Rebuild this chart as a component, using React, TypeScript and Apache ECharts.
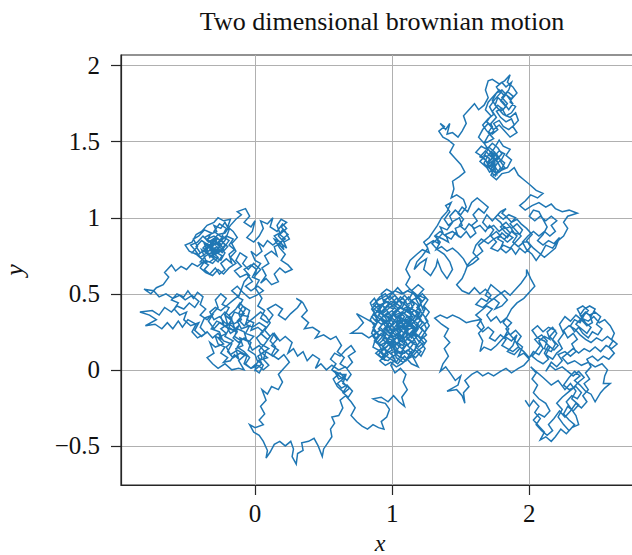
import React, { useEffect, useRef } from "react";
import * as echarts from "echarts";

// Path of a 2-D brownian walk, stored piece by piece as [x, y] pairs.
const originTangle: number[][] = [
  [0.00,0.00],[0.03,-0.02],[0.06,0.03],[0.02,0.06],[0.09,0.08],[0.05,0.11],[0.10,0.14],[0.04,0.17],[0.01,0.21],[0.06,0.25],
  [0.02,0.28],[-0.03,0.26],[-0.01,0.31],[-0.06,0.33],[-0.04,0.39],[-0.09,0.42],[-0.12,0.37],[-0.10,0.33],[-0.16,0.30],[-0.14,0.25],
  [-0.19,0.28],[-0.17,0.34],[-0.22,0.38],[-0.25,0.35],[-0.23,0.30],[-0.28,0.32],[-0.32,0.27],[-0.26,0.25],[-0.24,0.20],[-0.29,0.22],
  [-0.27,0.17],[-0.22,0.15],[-0.25,0.11],[-0.20,0.08],[-0.23,0.05],[-0.18,0.06],[-0.15,0.10],[-0.12,0.07],[-0.14,0.14],[-0.09,0.16],
  [-0.11,0.21],[-0.06,0.19],[-0.08,0.25],[-0.13,0.27],[-0.18,0.24],[-0.21,0.29],[-0.16,0.31],[-0.19,0.36],[-0.14,0.40],[-0.11,0.44],
  [-0.07,0.40],[-0.10,0.36],[-0.05,0.35],[-0.07,0.30],[-0.02,0.28],[0.03,0.31],[0.08,0.28],[0.04,0.24],[0.09,0.20],[0.13,0.24],
  [0.16,0.20],[0.12,0.16],[0.17,0.13],[0.13,0.09],[0.08,0.12],[0.06,0.07],[0.10,0.03],[0.06,0.00],[0.02,0.03],[-0.03,0.01],
];

const leftLowerSpread: number[][] = [
  [-0.08,0.04],[-0.06,0.09],[-0.11,0.11],[-0.16,0.08],[-0.20,0.12],[-0.17,0.17],[-0.23,0.19],[-0.27,0.24],[-0.31,0.21],[-0.35,0.25],
  [-0.39,0.22],[-0.44,0.26],[-0.41,0.31],[-0.47,0.29],[-0.52,0.33],[-0.50,0.38],[-0.55,0.36],[-0.59,0.40],[-0.56,0.44],[-0.61,0.46],
  [-0.57,0.50],[-0.52,0.48],[-0.49,0.52],[-0.45,0.47],[-0.42,0.51],[-0.38,0.48],[-0.40,0.43],[-0.36,0.40],[-0.40,0.36],[-0.35,0.33],
  [-0.31,0.37],[-0.27,0.41],[-0.29,0.46],[-0.25,0.50],[-0.21,0.47],[-0.24,0.43],[-0.19,0.41],[-0.22,0.36],[-0.17,0.33],[-0.21,0.28],
  [-0.16,0.26],[-0.12,0.29],[-0.15,0.22],[-0.10,0.19],[-0.13,0.15],[-0.08,0.12],[-0.04,0.08],[-0.07,0.04],[-0.03,0.01],
];

const lowerLeftReturn: number[][] = [
  [0.02,0.05],[0.00,0.10],[-0.05,0.13],[-0.03,0.18],[-0.08,0.21],[-0.12,0.18],[-0.16,0.21],[-0.13,0.25],[-0.17,0.29],[-0.22,0.31],
  [-0.26,0.35],[-0.30,0.33],[-0.33,0.38],[-0.29,0.41],[-0.25,0.39],[-0.21,0.42],[-0.17,0.45],[-0.13,0.48],[-0.09,0.46],[-0.12,0.41],
  [-0.08,0.37],[-0.12,0.33],[-0.08,0.29],[-0.04,0.32],[0.00,0.35],[0.04,0.38],[0.08,0.35],[0.11,0.31],[0.07,0.26],[0.11,0.22],
  [0.07,0.17],[0.03,0.13],[0.05,0.08],[0.01,0.04],
];

const startAndLeftArm: number[][] = [
  [0.00,0.00],[0.05,0.04],[0.02,0.09],[0.07,0.12],[0.03,0.16],[-0.02,0.13],[-0.05,0.18],[-0.01,0.22],[-0.07,0.24],[-0.04,0.29],
  [-0.10,0.27],[-0.13,0.32],[-0.09,0.36],[-0.15,0.38],[-0.18,0.33],[-0.22,0.36],[-0.20,0.30],[-0.25,0.27],[-0.21,0.24],[-0.27,0.21],
  [-0.23,0.17],[-0.29,0.15],[-0.33,0.18],[-0.30,0.11],[-0.35,0.08],[-0.31,0.04],[-0.27,0.01],[-0.22,0.04],[-0.17,0.00],[-0.12,0.01],
  [-0.08,0.00],[-0.12,0.06],[-0.07,0.10],[-0.13,0.13],[-0.18,0.10],[-0.21,0.15],[-0.16,0.19],[-0.22,0.22],[-0.19,0.27],[-0.26,0.31],
  [-0.30,0.27],[-0.34,0.32],[-0.31,0.36],[-0.37,0.34],[-0.40,0.28],[-0.36,0.24],[-0.42,0.21],[-0.46,0.25],[-0.43,0.30],[-0.49,0.33],
  [-0.53,0.28],[-0.56,0.32],[-0.60,0.27],[-0.64,0.31],[-0.68,0.27],[-0.73,0.30],[-0.80,0.29],[-0.72,0.33],[-0.77,0.36],[-0.84,0.38],
  [-0.75,0.39],[-0.70,0.36],[-0.66,0.41],[-0.61,0.38],[-0.57,0.42],[-0.52,0.40],[-0.48,0.44],[-0.44,0.41],[-0.41,0.45],[-0.46,0.49],
  [-0.51,0.46],[-0.55,0.49],[-0.60,0.47],[-0.65,0.50],[-0.70,0.48],[-0.74,0.52],[-0.81,0.53],[-0.76,0.50],[-0.72,0.54],[-0.67,0.56],
  [-0.63,0.61],[-0.66,0.64],[-0.61,0.69],[-0.58,0.65],[-0.54,0.68],[-0.50,0.66],[-0.46,0.70],[-0.42,0.68],[-0.38,0.71],[-0.34,0.69],
];

const leftTangle: number[][] = [
  [-0.37,0.66],[-0.33,0.63],[-0.29,0.67],[-0.26,0.63],[-0.22,0.66],[-0.25,0.70],[-0.21,0.73],[-0.17,0.70],[-0.19,0.76],[-0.15,0.79],
  [-0.19,0.82],[-0.16,0.86],[-0.21,0.88],[-0.26,0.84],[-0.23,0.79],[-0.29,0.76],[-0.33,0.79],[-0.30,0.83],[-0.35,0.85],[-0.32,0.90],
  [-0.37,0.92],[-0.41,0.88],[-0.45,0.86],[-0.42,0.81],[-0.46,0.77],[-0.41,0.76],[-0.37,0.79],[-0.33,0.76],[-0.28,0.79],[-0.31,0.74],
  [-0.27,0.71],[-0.24,0.75],[-0.28,0.77],[-0.26,0.81],[-0.30,0.85],[-0.27,0.87],[-0.31,0.81],[-0.35,0.83],[-0.38,0.80],[-0.34,0.78],
  [-0.30,0.80],[-0.26,0.78],[-0.22,0.82],[-0.25,0.86],[-0.29,0.82],[-0.33,0.84],[-0.37,0.87],[-0.33,0.89],[-0.28,0.91],[-0.30,0.95],
  [-0.25,0.93],[-0.22,0.97],[-0.19,0.92],[-0.22,0.85],[-0.27,0.80],[-0.32,0.77],[-0.36,0.75],[-0.40,0.71],[-0.35,0.70],
];

const leftTopSpread: number[][] = [
  [-0.39,0.73],[-0.43,0.76],[-0.48,0.78],[-0.51,0.82],[-0.46,0.84],[-0.43,0.89],[-0.39,0.91],[-0.35,0.95],[-0.30,0.97],[-0.27,1.00],
  [-0.23,0.98],[-0.18,0.99],[-0.20,0.94],[-0.16,0.91],[-0.13,0.87],[-0.17,0.83],[-0.14,0.78],[-0.18,0.74],[-0.14,0.70],[-0.19,0.67],
  [-0.23,0.63],[-0.27,0.66],[-0.31,0.62],[-0.36,0.64],[-0.40,0.67],[-0.37,0.71],[-0.33,0.71],
];

const upperLeftCluster: number[][] = [
  [-0.30,0.73],[-0.35,0.77],[-0.40,0.74],[-0.44,0.79],[-0.47,0.82],[-0.42,0.84],[-0.38,0.88],[-0.34,0.84],[-0.29,0.87],[-0.32,0.81],
  [-0.27,0.78],[-0.31,0.75],[-0.25,0.72],[-0.22,0.77],[-0.27,0.82],[-0.24,0.87],[-0.30,0.91],[-0.26,0.96],[-0.21,0.93],[-0.24,0.88],
  [-0.19,0.85],[-0.23,0.80],[-0.28,0.84],[-0.33,0.80],[-0.37,0.83],[-0.34,0.76],[-0.39,0.79],[-0.36,0.72],[-0.31,0.70],[-0.27,0.74],
  [-0.32,0.78],[-0.28,0.81],[-0.24,0.77],[-0.20,0.81],[-0.25,0.85],[-0.30,0.88],[-0.35,0.86],[-0.31,0.83],[-0.36,0.80],[-0.33,0.74],
  [-0.29,0.78],[-0.34,0.82],[-0.39,0.85],[-0.43,0.81],[-0.40,0.77],[-0.35,0.79],[-0.31,0.85],[-0.27,0.89],[-0.22,0.90],[-0.18,0.95],
  [-0.14,0.99],[-0.10,1.02],[-0.13,1.04],[-0.07,1.06],[-0.04,1.01],[-0.08,0.97],[-0.03,0.94],[0.00,0.98],[-0.02,0.91],[-0.06,0.87],
  [-0.01,0.84],[0.03,0.88],[0.06,0.93],[0.04,0.98],[0.09,0.96],[0.13,1.00],[0.11,0.94],[0.16,0.91],[0.20,0.96],[0.23,0.93],
  [0.18,0.89],[0.22,0.86],[0.17,0.83],[0.21,0.79],[0.19,0.84],[0.14,0.86],[0.18,0.80],[0.22,0.76],[0.19,0.72],[0.24,0.69],
  [0.27,0.66],[0.22,0.64],[0.18,0.67],[0.14,0.63],[0.17,0.58],[0.12,0.56],[0.08,0.60],[0.04,0.57],
];

const upperMiddleTangle: number[][] = [
  [0.08,0.62],[0.05,0.67],[0.10,0.70],[0.07,0.75],[0.12,0.78],[0.16,0.75],[0.14,0.81],[0.19,0.83],[0.23,0.80],[0.20,0.86],
  [0.24,0.89],[0.20,0.92],[0.17,0.88],[0.21,0.84],[0.25,0.86],[0.22,0.91],[0.19,0.94],[0.23,0.97],[0.19,0.99],[0.16,0.95],
  [0.18,0.90],[0.14,0.88],[0.17,0.85],[0.13,0.82],[0.09,0.85],[0.06,0.81],[0.02,0.84],[0.05,0.78],[0.01,0.75],[-0.03,0.78],
  [0.00,0.72],[0.04,0.70],[0.01,0.66],
];

const middleLeftCluster: number[][] = [
  [0.00,0.62],[0.04,0.66],[-0.01,0.70],[-0.05,0.66],[-0.09,0.70],[-0.06,0.74],[-0.11,0.77],[-0.14,0.72],[-0.10,0.68],[-0.15,0.65],
  [-0.11,0.61],[-0.06,0.63],[-0.02,0.58],[-0.07,0.55],[-0.03,0.52],[0.02,0.55],[0.06,0.52],[0.01,0.49],[-0.04,0.47],[-0.09,0.51],
  [-0.13,0.55],[-0.17,0.52],[-0.12,0.48],[-0.08,0.58],[-0.04,0.62],[-0.08,0.66],[-0.03,0.69],[0.01,0.66],[-0.02,0.61],[0.03,0.59],
  [0.00,0.54],[0.05,0.47],[0.02,0.42],[0.07,0.39],[0.04,0.34],[0.09,0.31],[0.13,0.36],[0.09,0.40],[0.15,0.43],[0.20,0.40],
  [0.17,0.36],[0.22,0.33],[0.26,0.37],[0.31,0.41],[0.34,0.45],[0.30,0.47],[0.35,0.44],[0.38,0.39],[0.34,0.35],[0.39,0.31],
  [0.36,0.27],[0.42,0.28],[0.47,0.25],[0.44,0.21],[0.50,0.23],[0.55,0.20],[0.59,0.22],[0.63,0.16],[0.60,0.12],[0.65,0.08],
  [0.62,0.04],[0.67,0.01],
];

const smallLowerTangle: number[][] = [
  [0.71,0.05],[0.68,0.09],[0.73,0.12],[0.70,0.16],[0.66,0.13],[0.62,0.09],[0.58,0.11],[0.55,0.07],[0.59,0.04],[0.56,0.00],
  [0.60,-0.03],[0.64,-0.06],[0.60,-0.09],[0.63,-0.12],[0.67,-0.10],[0.71,-0.14],[0.68,-0.18],[0.64,-0.15],[0.67,-0.11],[0.63,-0.07],
  [0.66,-0.03],
];

const lowerLoop: number[][] = [
  [0.63,-0.03],[0.58,-0.01],[0.61,-0.06],[0.66,-0.04],[0.64,-0.09],[0.69,-0.12],[0.65,-0.15],[0.60,-0.11],[0.57,-0.06],[0.62,-0.02],
  [0.67,-0.07],[0.70,-0.03],[0.66,0.02],[0.61,0.00],[0.56,0.03],[0.52,0.00],[0.48,0.04],[0.44,0.01],[0.47,0.07],[0.42,0.10],
  [0.38,0.06],[0.35,0.12],[0.31,0.09],[0.28,0.14],[0.24,0.11],[0.27,0.18],[0.22,0.22],[0.18,0.19],[0.14,0.24],[0.11,0.19],
  [0.15,0.15],[0.12,0.10],[0.17,0.07],[0.21,0.10],[0.25,0.05],[0.21,0.01],[0.17,-0.03],[0.20,-0.08],[0.17,-0.13],[0.12,-0.11],
  [0.09,-0.16],[0.05,-0.13],[0.08,-0.20],[0.04,-0.24],[0.07,-0.29],[0.03,-0.33],[0.06,-0.36],[0.00,-0.38],[-0.04,-0.36],[-0.01,-0.41],
  [0.03,-0.43],[0.06,-0.47],[0.09,-0.53],[0.08,-0.58],[0.11,-0.54],[0.14,-0.49],[0.18,-0.47],[0.22,-0.50],[0.26,-0.47],[0.28,-0.52],
  [0.27,-0.57],[0.30,-0.62],[0.31,-0.55],[0.35,-0.53],[0.34,-0.48],[0.39,-0.47],[0.43,-0.45],[0.46,-0.50],[0.49,-0.57],[0.50,-0.52],
  [0.53,-0.48],[0.56,-0.44],[0.55,-0.39],[0.58,-0.35],[0.56,-0.31],[0.61,-0.30],[0.64,-0.25],[0.62,-0.20],[0.66,-0.17],[0.70,-0.21],
  [0.73,-0.25],[0.70,-0.30],[0.74,-0.34],[0.78,-0.37],[0.82,-0.39],[0.86,-0.36],[0.90,-0.38],[0.94,-0.39],[0.92,-0.34],[0.96,-0.31],
  [0.98,-0.26],[0.95,-0.22],[0.90,-0.21],[0.86,-0.19],[0.92,-0.18],[0.97,-0.21],[1.01,-0.17],[1.05,-0.21],[1.09,-0.24],[1.07,-0.18],
  [1.11,-0.13],[1.08,-0.08],[1.10,-0.03],[1.06,0.01],[1.02,-0.02],[0.99,0.03],
];

const centerTangle: number[][] = [
  [1.02,0.07],[0.99,0.11],[1.04,0.13],[1.01,0.17],[1.06,0.16],[1.04,0.21],[0.99,0.23],[1.02,0.27],[0.97,0.26],[0.94,0.30],
  [0.98,0.33],[0.95,0.36],[1.00,0.39],[1.03,0.35],[1.07,0.37],[1.05,0.32],[1.10,0.33],[1.08,0.28],[1.12,0.27],[1.10,0.22],
  [1.14,0.19],[1.11,0.16],[1.15,0.13],[1.12,0.10],[1.08,0.13],[1.06,0.08],[1.02,0.11],[1.05,0.15],[1.01,0.20],[0.97,0.17],
  [0.93,0.20],[0.96,0.24],[0.91,0.28],[0.95,0.32],[0.90,0.36],[0.94,0.39],[0.98,0.43],[0.94,0.46],[0.99,0.48],[1.03,0.44],
  [1.06,0.48],[1.10,0.45],[1.07,0.41],[1.11,0.38],[1.15,0.41],[1.13,0.45],[1.17,0.47],[1.20,0.42],[1.17,0.38],[1.21,0.33],
  [1.18,0.30],[1.22,0.26],[1.19,0.22],[1.23,0.18],[1.19,0.15],[1.16,0.20],[1.13,0.24],[1.16,0.27],[1.12,0.31],[1.15,0.35],
  [1.11,0.35],[1.07,0.31],[1.03,0.29],[1.06,0.25],[1.02,0.23],[0.98,0.27],[1.01,0.31],[0.97,0.35],[1.02,0.37],[1.05,0.40],
  [1.01,0.43],[0.97,0.40],[0.93,0.37],[0.96,0.33],[0.92,0.30],[0.88,0.33],[0.91,0.37],[0.87,0.40],[0.91,0.43],[0.95,0.41],
  [0.99,0.45],[1.04,0.43],[1.08,0.40],[1.12,0.42],[1.09,0.37],[1.13,0.33],[1.09,0.30],[1.05,0.27],[1.09,0.24],[1.06,0.20],
  [1.10,0.18],[1.13,0.14],[1.09,0.11],[1.05,0.12],[1.01,0.09],[0.97,0.12],[0.93,0.15],[0.97,0.19],[1.00,0.15],[1.04,0.18],
  [1.08,0.16],[1.11,0.21],[1.15,0.23],[1.18,0.26],[1.14,0.30],[1.17,0.33],[1.20,0.37],[1.16,0.39],[1.13,0.37],[1.09,0.40],
  [1.06,0.36],[1.02,0.33],[0.99,0.29],[0.95,0.27],[0.99,0.24],[1.03,0.26],[1.07,0.29],[1.11,0.27],[1.08,0.22],[1.04,0.22],
  [1.00,0.19],[0.96,0.15],[0.92,0.12],[0.95,0.09],[0.91,0.06],[0.95,0.03],[0.99,0.05],[1.03,0.02],[1.07,0.04],[1.11,0.07],
  [1.15,0.09],[1.18,0.12],[1.22,0.15],[1.25,0.19],[1.22,0.22],[1.25,0.27],[1.23,0.31],[1.19,0.34],[1.23,0.38],[1.20,0.46],
  [1.16,0.50],[1.11,0.52],[1.07,0.50],[1.02,0.52],[0.98,0.50],[0.94,0.48],[0.90,0.46],[0.86,0.43],[0.90,0.40],[0.87,0.36],
  [0.90,0.32],[0.86,0.28],[0.89,0.24],[0.93,0.22],[0.89,0.18],[0.92,0.14],[0.88,0.11],[0.92,0.08],
];

const centerSpread: number[][] = [
  [0.96,0.11],[1.00,0.13],[0.97,0.18],[1.02,0.16],[1.06,0.19],[1.03,0.24],[1.07,0.22],[1.11,0.25],[1.14,0.21],[1.17,0.24],
  [1.21,0.21],[1.24,0.25],[1.27,0.29],[1.24,0.34],[1.27,0.38],[1.23,0.42],[1.26,0.46],[1.22,0.50],[1.18,0.47],[1.15,0.51],
  [1.12,0.46],[1.09,0.49],[1.05,0.45],[1.02,0.49],[0.98,0.46],[0.95,0.50],[0.91,0.48],[0.88,0.45],[0.92,0.41],[0.89,0.38],
  [0.85,0.35],[0.89,0.31],[0.86,0.26],[0.90,0.23],[0.87,0.19],[0.91,0.16],[0.95,0.18],[0.98,0.22],[1.01,0.27],[1.04,0.31],
  [1.08,0.33],[1.12,0.29],[1.16,0.31],[1.19,0.27],[1.16,0.23],[1.20,0.18],[1.17,0.15],[1.21,0.12],[1.17,0.08],[1.13,0.11],
  [1.10,0.06],[1.06,0.09],[1.03,0.05],[1.00,0.09],[0.97,0.06],[0.93,0.07],
];

const centerDense: number[][] = [
  [0.97,0.10],[0.94,0.14],[0.98,0.17],[0.95,0.21],[0.99,0.20],[1.03,0.17],[1.07,0.14],[1.11,0.17],[1.08,0.21],[1.12,0.23],
  [1.16,0.26],[1.13,0.29],[1.09,0.27],[1.05,0.29],[1.01,0.33],[0.98,0.37],[0.94,0.35],[0.90,0.39],[0.93,0.43],[0.97,0.45],
  [1.00,0.42],[1.04,0.45],[1.08,0.47],[1.11,0.43],[1.15,0.45],[1.18,0.43],[1.21,0.39],[1.18,0.35],[1.22,0.31],[1.19,0.28],
  [1.15,0.26],[1.18,0.22],[1.14,0.18],[1.18,0.16],[1.15,0.11],[1.11,0.13],[1.07,0.10],[1.03,0.12],[1.00,0.17],[0.96,0.20],
  [0.93,0.25],[0.97,0.29],[0.93,0.33],[0.97,0.32],[1.01,0.36],[1.05,0.34],[1.08,0.37],[1.12,0.40],[1.15,0.37],[1.11,0.33],
  [1.14,0.31],[1.10,0.28],[1.06,0.31],[1.03,0.27],[1.06,0.23],[1.02,0.20],[0.98,0.22],[1.00,0.26],[0.96,0.31],[0.99,0.35],
  [1.03,0.39],[1.07,0.43],[1.04,0.47],[1.00,0.51],[0.96,0.53],[0.92,0.50],[0.94,0.44],[0.90,0.42],[0.87,0.47],[0.84,0.44],
  [0.87,0.38],[0.84,0.33],[0.87,0.29],[0.85,0.24],[0.88,0.21],[0.86,0.15],[0.90,0.13],[0.93,0.10],
];

const centralCluster: number[][] = [
  [0.95,0.06],[0.90,0.10],[0.94,0.15],[0.88,0.19],[0.92,0.24],[0.97,0.20],[1.01,0.25],[0.96,0.29],[1.00,0.34],[1.05,0.30],
  [1.09,0.35],[1.04,0.39],[0.99,0.43],[1.03,0.47],[1.08,0.44],[1.12,0.48],[1.16,0.43],[1.12,0.39],[1.17,0.35],[1.13,0.31],
  [1.18,0.27],[1.14,0.22],[1.09,0.25],[1.05,0.20],[1.10,0.16],[1.06,0.11],[1.01,0.14],[1.03,0.08],[1.08,0.05],[1.13,0.09],
  [1.17,0.13],[1.21,0.09],[1.24,0.14],[1.20,0.19],[1.25,0.23],[1.21,0.28],[1.26,0.32],[1.22,0.37],[1.18,0.41],[1.22,0.45],
  [1.17,0.50],[1.13,0.53],[1.08,0.50],[1.04,0.54],[1.00,0.50],[0.96,0.47],[0.93,0.42],[0.97,0.38],[0.92,0.34],[0.88,0.30],
  [0.82,0.33],[0.74,0.37],[0.79,0.31],[0.75,0.27],[0.70,0.24],[0.78,0.24],[0.83,0.21],
  [0.91,0.26],[0.86,0.22],[0.90,0.17],[0.95,0.21],[0.99,0.17],[1.03,0.21],[1.07,0.26],[1.03,0.31],[1.07,0.34],[1.11,0.30],
  [1.08,0.27],[1.12,0.24],[1.08,0.20],[1.04,0.25],[1.00,0.29],[1.04,0.33],[1.00,0.37],[1.05,0.41],[1.10,0.39],[1.14,0.36],
  [1.10,0.32],[1.15,0.28],[1.11,0.26],[1.06,0.29],[1.02,0.27],[0.98,0.31],[0.94,0.27],[0.98,0.24],[1.02,0.19],[0.98,0.14],
  [0.94,0.10],[0.99,0.07],[1.04,0.04],[1.09,0.09],[1.14,0.04],[1.19,0.02],[1.16,0.07],[1.12,0.13],[1.16,0.18],[1.11,0.20],
  [1.15,0.24],[1.19,0.30],[1.15,0.33],[1.19,0.38],[1.14,0.40],[1.09,0.43],[1.05,0.46],[1.01,0.40],[0.96,0.42],[0.92,0.38],
  [0.89,0.44],[0.85,0.40],[0.89,0.35],[0.94,0.31],[0.90,0.27],[0.95,0.24],[1.00,0.21],[1.05,0.24],[1.09,0.29],[1.06,0.33],
  [1.02,0.36],[1.07,0.38],[1.12,0.35],[1.16,0.32],[1.21,0.35],[1.24,0.40],[1.20,0.43],[1.24,0.47],[1.19,0.49],[1.23,0.53],
  [1.19,0.56],[1.14,0.52],[1.10,0.56],[1.13,0.61],[1.10,0.66],[1.13,0.72],
];

const midUpperTangle: number[][] = [
  [1.18,0.76],[1.22,0.79],[1.27,0.77],[1.25,0.82],[1.30,0.85],[1.34,0.83],[1.32,0.88],[1.37,0.86],[1.41,0.84],[1.39,0.89],
  [1.44,0.91],[1.48,0.88],[1.46,0.93],[1.51,0.95],[1.49,1.00],[1.45,0.98],[1.41,0.95],[1.38,0.99],[1.42,1.04],[1.39,1.08],
  [1.43,1.10],[1.40,1.04],[1.36,1.00],[1.33,0.95],[1.30,0.91],[1.27,0.87],[1.23,0.84],[1.26,0.80],[1.22,0.75],[1.18,0.71],
];

const climbToTop: number[][] = [
  [1.16,0.66],[1.20,0.70],[1.25,0.73],[1.23,0.66],[1.28,0.62],[1.32,0.68],[1.33,0.72],[1.36,0.65],[1.40,0.60],[1.44,0.66],
  [1.42,0.71],[1.38,0.76],[1.33,0.79],[1.29,0.83],[1.33,0.86],[1.37,0.90],[1.35,0.94],[1.40,0.92],[1.44,0.97],[1.42,1.01],
  [1.46,1.05],[1.50,1.02],[1.54,1.07],[1.52,1.12],[1.47,1.15],[1.43,1.13],[1.45,1.19],[1.44,1.24],[1.49,1.27],[1.53,1.30],
  [1.50,1.35],[1.46,1.39],[1.42,1.43],[1.45,1.48],[1.41,1.51],[1.37,1.53],[1.34,1.57],[1.38,1.60],[1.35,1.62],[1.39,1.58],
  [1.42,1.62],[1.40,1.55],[1.44,1.56],[1.48,1.53],[1.51,1.57],[1.54,1.62],[1.52,1.67],[1.56,1.71],[1.60,1.75],[1.63,1.71],
  [1.67,1.74],[1.70,1.79],[1.68,1.84],[1.70,1.90],[1.73,1.91],[1.78,1.88],[1.82,1.90],[1.86,1.94],[1.84,1.89],[1.88,1.86],
  [1.91,1.82],[1.87,1.78],[1.83,1.81],[1.79,1.77],[1.83,1.73],[1.79,1.70],[1.75,1.74],[1.77,1.79],[1.81,1.76],[1.85,1.71],
  [1.88,1.75],[1.84,1.80],[1.80,1.84],[1.76,1.82],[1.73,1.77],[1.77,1.72],[1.81,1.68],[1.86,1.66],[1.90,1.69],[1.92,1.64],
  [1.88,1.60],[1.91,1.56],[1.86,1.53],[1.82,1.57],[1.78,1.61],[1.74,1.58],[1.70,1.62],[1.66,1.58],[1.63,1.53],[1.67,1.49],
];

const topTangle: number[][] = [
  [1.70,1.54],[1.74,1.57],[1.72,1.62],[1.76,1.66],[1.73,1.70],[1.77,1.74],[1.81,1.71],[1.84,1.75],[1.80,1.79],[1.84,1.83],
  [1.88,1.80],[1.86,1.76],[1.90,1.73],[1.87,1.69],[1.83,1.67],[1.80,1.72],[1.76,1.70],[1.79,1.66],[1.83,1.63],[1.87,1.65],
  [1.89,1.61],[1.85,1.58],[1.81,1.60],[1.78,1.64],[1.74,1.62],[1.77,1.58],[1.73,1.55],[1.69,1.57],[1.66,1.61],[1.70,1.65],
  [1.74,1.68],[1.71,1.73],[1.75,1.78],[1.79,1.82],[1.76,1.86],[1.80,1.89],[1.83,1.86],[1.87,1.89],[1.85,1.84],[1.82,1.80],
  [1.78,1.84],[1.74,1.80],[1.70,1.76],[1.68,1.71],[1.72,1.67],[1.69,1.63],[1.73,1.60],[1.70,1.56],[1.74,1.52],[1.70,1.50],
  [1.67,1.49],
];

const knotBelowTop: number[][] = [
  [1.70,1.45],[1.67,1.41],[1.71,1.39],[1.69,1.34],[1.73,1.31],[1.76,1.35],[1.79,1.38],[1.76,1.42],[1.72,1.43],[1.74,1.38],
  [1.70,1.35],[1.73,1.33],[1.77,1.36],[1.74,1.40],[1.78,1.44],[1.82,1.42],[1.79,1.37],[1.82,1.33],[1.78,1.30],[1.74,1.28],
  [1.71,1.33],[1.68,1.38],[1.64,1.40],[1.68,1.44],[1.71,1.41],[1.75,1.38],[1.72,1.35],[1.76,1.32],[1.73,1.37],[1.77,1.40],
  [1.73,1.42],[1.69,1.46],
];

const upperRightCluster: number[][] = [
  [1.71,1.46],[1.75,1.43],[1.72,1.38],[1.68,1.41],[1.64,1.37],[1.69,1.33],[1.73,1.35],[1.77,1.31],[1.75,1.27],[1.79,1.33],
  [1.76,1.38],[1.80,1.42],[1.77,1.46],[1.73,1.49],[1.69,1.45],[1.65,1.47],[1.61,1.43],[1.66,1.40],[1.70,1.36],[1.74,1.40],
  [1.71,1.44],[1.75,1.36],[1.72,1.32],[1.76,1.29],[1.73,1.36],[1.78,1.39],[1.82,1.36],[1.79,1.31],[1.84,1.33],[1.87,1.38],
  [1.83,1.41],[1.86,1.45],[1.81,1.47],[1.78,1.51],[1.74,1.45],[1.70,1.41],[1.67,1.36],[1.71,1.30],[1.75,1.33],[1.72,1.28],
  [1.76,1.25],[1.80,1.29],[1.85,1.30],[1.89,1.33],[1.92,1.28],[1.96,1.25],[2.00,1.22],[2.05,1.18],[2.10,1.16],[2.06,1.13],
  [2.01,1.15],[1.97,1.11],[1.93,1.08],[1.97,1.05],[2.02,1.08],[2.07,1.10],[2.12,1.07],[2.16,1.09],[2.19,1.06],[2.24,1.04],
  [2.29,1.05],[2.35,1.03],[2.28,1.01],[2.25,0.97],[2.28,0.93],[2.25,0.88],[2.21,0.85],[2.17,0.80],[2.12,0.82],[2.09,0.77],
  [2.05,0.72],[2.02,0.76],[1.98,0.79],[1.95,0.84],[1.99,0.88],
];

const upperRightSpread: number[][] = [
  [2.03,0.91],[2.07,0.88],[2.11,0.91],[2.15,0.88],[2.19,0.91],[2.16,0.95],[2.20,0.98],[2.16,1.01],[2.12,0.98],[2.08,1.01],
  [2.04,0.98],[2.00,1.01],[2.03,1.05],[2.07,1.04],[2.10,0.99],[2.13,0.94],[2.10,0.89],[2.06,0.85],[2.10,0.82],[2.14,0.85],
  [2.18,0.83],[2.22,0.87],[2.19,0.80],[2.15,0.77],[2.11,0.74],[2.07,0.77],[2.03,0.80],[1.99,0.84],
];

const rightMidTangle: number[][] = [
  [1.96,0.84],[1.92,0.81],[1.88,0.84],[1.91,0.88],[1.87,0.91],[1.84,0.87],[1.80,0.90],[1.77,0.86],[1.81,0.84],[1.79,0.80],
  [1.83,0.77],[1.87,0.80],[1.90,0.76],[1.93,0.80],[1.97,0.77],[2.01,0.81],[1.98,0.85],[2.02,0.89],[1.98,0.93],[1.94,0.96],
  [1.91,0.99],[1.87,0.97],[1.84,1.00],[1.80,1.03],[1.83,1.06],[1.79,1.04],[1.75,1.00],[1.79,0.97],[1.82,0.93],[1.86,0.94],
  [1.89,0.90],[1.93,0.89],
];

const rightMidCluster: number[][] = [
  [1.95,0.92],[1.91,0.96],[1.87,0.93],[1.83,0.97],[1.79,0.94],[1.83,0.90],[1.88,0.87],[1.84,0.84],[1.80,0.87],[1.76,0.91],
  [1.72,0.88],[1.76,0.84],[1.72,0.80],[1.77,0.78],[1.81,0.82],[1.86,0.80],[1.90,0.84],[1.94,0.88],[1.90,0.92],[1.86,0.96],
  [1.90,1.00],[1.85,1.02],[1.81,0.99],[1.77,1.02],[1.73,0.98],[1.69,1.02],[1.66,0.97],[1.70,0.93],[1.74,0.95],[1.78,0.91],
  [1.82,0.94],[1.86,0.90],[1.82,0.86],[1.78,0.88],[1.74,0.86],[1.70,0.83],[1.65,0.86],[1.61,0.82],[1.59,0.77],[1.63,0.73],
  [1.59,0.70],[1.55,0.68],[1.52,0.73],
];

const upperMidSpread: number[][] = [
  [1.48,0.77],[1.44,0.80],[1.40,0.78],[1.36,0.81],[1.32,0.79],[1.35,0.84],[1.31,0.88],[1.35,0.91],[1.39,0.88],[1.43,0.86],
  [1.46,0.90],[1.50,0.87],[1.54,0.91],[1.57,0.87],[1.61,0.90],[1.58,0.95],[1.62,0.98],[1.59,1.02],[1.63,1.06],[1.67,1.03],
  [1.70,1.07],[1.66,1.10],[1.62,1.13],[1.58,1.10],[1.55,1.04],[1.51,1.07],[1.48,1.03],[1.52,0.99],[1.49,0.95],[1.53,0.92],
  [1.56,0.96],[1.60,0.93],[1.64,0.95],[1.68,0.91],[1.71,0.95],[1.74,0.92],[1.71,0.88],[1.67,0.85],[1.63,0.82],[1.66,0.78],
  [1.62,0.75],[1.58,0.72],[1.55,0.69],
];

const descentThroughMiddle: number[][] = [
  [1.53,0.64],[1.51,0.60],[1.47,0.56],[1.51,0.52],[1.56,0.50],[1.60,0.54],[1.64,0.50],[1.68,0.53],[1.72,0.49],[1.69,0.45],
  [1.65,0.47],[1.61,0.43],[1.66,0.41],[1.70,0.44],[1.74,0.47],[1.78,0.44],[1.75,0.40],[1.80,0.42],[1.84,0.46],[1.80,0.50],
  [1.76,0.53],[1.72,0.56],[1.68,0.49],[1.73,0.46],[1.77,0.49],[1.82,0.52],[1.86,0.49],[1.90,0.53],[1.94,0.57],[1.98,0.62],
  [1.98,0.66],[2.01,0.60],[2.04,0.55],[2.00,0.51],[1.96,0.47],[1.91,0.44],[1.87,0.40],[1.84,0.35],[1.81,0.31],[1.85,0.27],
  [1.82,0.22],[1.87,0.19],[1.91,0.23],[1.88,0.16],[1.84,0.12],[1.89,0.10],[1.93,0.14],[1.89,0.20],[1.85,0.24],[1.80,0.20],
  [1.76,0.16],[1.72,0.13],[1.67,0.15],[1.64,0.12],[1.66,0.19],[1.63,0.24],[1.67,0.28],[1.64,0.33],[1.58,0.32],[1.54,0.31],
  [1.49,0.34],[1.44,0.36],[1.40,0.34],[1.35,0.36],[1.31,0.34],[1.36,0.30],[1.41,0.27],[1.38,0.22],[1.42,0.18],[1.38,0.14],
  [1.41,0.09],[1.37,0.04],[1.35,-0.01],[1.39,0.02],[1.43,-0.03],[1.46,-0.07],[1.50,-0.04],[1.48,-0.10],[1.40,-0.14],[1.47,-0.13],
  [1.51,-0.17],[1.53,-0.22],[1.52,-0.15],[1.56,-0.11],[1.53,-0.07],[1.58,-0.03],[1.62,-0.01],[1.66,-0.04],[1.70,-0.02],[1.74,-0.04],
  [1.79,-0.01],[1.83,0.01],[1.87,-0.02],[1.92,0.01],[1.96,0.03],[2.00,0.07],
];

const midRightSpread: number[][] = [
  [1.96,0.11],[1.92,0.09],[1.95,0.15],[1.91,0.18],[1.94,0.22],[1.90,0.26],[1.86,0.23],[1.83,0.27],[1.87,0.31],[1.83,0.34],
  [1.79,0.31],[1.76,0.35],[1.72,0.32],[1.69,0.36],[1.73,0.40],[1.69,0.42],[1.65,0.39],[1.61,0.36],[1.65,0.33],[1.62,0.29],
  [1.66,0.25],[1.70,0.28],[1.74,0.25],[1.71,0.21],[1.75,0.19],[1.79,0.23],[1.83,0.20],[1.80,0.16],[1.84,0.14],[1.88,0.12],
  [1.92,0.15],[1.96,0.12],[2.00,0.08],
];

const rightLowerTangle: number[][] = [
  [2.03,0.12],[2.07,0.10],[2.10,0.14],[2.07,0.19],[2.11,0.22],[2.15,0.20],[2.13,0.25],[2.17,0.28],[2.20,0.24],[2.17,0.20],
  [2.21,0.16],[2.18,0.13],[2.14,0.16],[2.11,0.11],[2.14,0.07],[2.10,0.04],[2.06,0.06],[2.02,0.09],
];

const lowerRightA: number[][] = [
  [2.04,0.11],[2.08,0.16],[2.04,0.20],[2.09,0.23],[2.13,0.19],[2.11,0.14],[2.16,0.12],[2.19,0.17],[2.15,0.22],[2.19,0.26],
  [2.14,0.28],[2.10,0.25],[2.06,0.29],[2.02,0.26],[2.06,0.21],[2.11,0.19],[2.15,0.15],[2.12,0.10],[2.17,0.07],[2.20,0.11],
  [2.24,0.14],[2.21,0.19],[2.25,0.24],[2.22,0.30],[2.26,0.35],[2.30,0.32],[2.34,0.36],[2.38,0.33],
];

const farRightTangle: number[][] = [
  [2.42,0.29],[2.46,0.31],[2.44,0.36],[2.48,0.38],[2.52,0.35],[2.49,0.30],[2.53,0.27],[2.50,0.23],[2.46,0.25],[2.43,0.21],
  [2.39,0.24],[2.36,0.28],[2.33,0.25],[2.30,0.29],[2.33,0.33],[2.37,0.31],[2.40,0.36],[2.43,0.39],[2.39,0.42],[2.35,0.40],
  [2.38,0.35],
];

const lowerRightB: number[][] = [
  [2.41,0.38],[2.45,0.35],
  [2.48,0.40],[2.44,0.42],[2.40,0.40],[2.37,0.36],[2.41,0.31],[2.45,0.28],[2.42,0.24],[2.38,0.27],[2.34,0.30],[2.38,0.34],
  [2.43,0.32],[2.47,0.35],[2.51,0.31],[2.55,0.33],[2.59,0.29],[2.62,0.24],[2.60,0.20],[2.64,0.17],[2.60,0.14],[2.56,0.16],
  [2.52,0.12],[2.48,0.15],[2.44,0.12],[2.40,0.14],[2.36,0.11],[2.32,0.14],[2.28,0.11],[2.24,0.08],[2.28,0.04],[2.33,0.06],
  [2.38,0.03],[2.43,0.05],[2.48,0.02],[2.53,0.04],[2.57,0.00],[2.55,-0.04],[2.54,-0.09],[2.59,-0.09],[2.55,-0.12],[2.52,-0.15],
  [2.48,-0.21],[2.45,-0.16],[2.41,-0.14],[2.37,-0.10],[2.33,-0.07],[2.37,-0.04],[2.33,-0.01],[2.29,-0.05],[2.25,-0.10],[2.29,-0.13],
  [2.34,-0.11],[2.38,-0.15],[2.35,-0.19],[2.31,-0.17],[2.27,-0.21],[2.30,-0.25],[2.34,-0.30],[2.36,-0.36],[2.31,-0.38],[2.27,-0.42],
  [2.23,-0.39],[2.19,-0.44],[2.16,-0.47],[2.12,-0.44],[2.08,-0.46],[2.11,-0.41],[2.07,-0.37],[2.03,-0.33],[2.07,-0.29],[2.11,-0.31],
  [2.15,-0.27],[2.12,-0.22],[2.07,-0.19],[2.03,-0.15],[2.06,-0.10],[2.02,-0.06],[2.05,-0.02],[2.01,0.02],
];

const finalWander: number[][] = [
  [2.10,-0.05],[2.16,-0.10],[2.21,-0.07],[2.26,-0.13],[2.30,-0.09],[2.34,-0.14],[2.31,-0.19],[2.36,-0.23],[2.32,-0.27],[2.28,-0.24],
  [2.25,-0.29],[2.29,-0.33],[2.33,-0.36],[2.29,-0.40],[2.25,-0.36],[2.21,-0.31],[2.24,-0.26],[2.20,-0.22],[2.24,-0.18],[2.28,-0.15],
  [2.32,-0.12],[2.36,-0.08],[2.40,-0.05],[2.36,-0.01],[2.32,-0.04],[2.28,-0.01],[2.24,0.02],[2.19,0.00],[2.15,0.03],[2.12,-0.01],
];

const lowerRightSpread: number[][] = [
  [2.16,0.05],[2.20,0.02],[2.24,0.06],[2.21,0.10],[2.26,0.12],[2.30,0.09],[2.34,0.12],[2.31,0.17],[2.35,0.20],[2.32,0.24],
  [2.28,0.21],[2.25,0.26],[2.29,0.29],[2.33,0.27],[2.37,0.23],[2.41,0.20],[2.45,0.18],[2.49,0.21],[2.53,0.19],[2.57,0.22],
  [2.61,0.19],[2.58,0.15],[2.62,0.11],[2.58,0.07],[2.54,0.09],[2.50,0.06],[2.46,0.09],[2.42,0.07],[2.45,0.02],[2.41,-0.02],
  [2.44,-0.06],[2.40,-0.09],[2.43,-0.13],[2.39,-0.17],[2.42,-0.21],[2.38,-0.25],[2.34,-0.22],[2.30,-0.27],[2.26,-0.31],[2.22,-0.27],
  [2.18,-0.32],[2.14,-0.36],[2.17,-0.40],[2.13,-0.43],[2.09,-0.40],[2.05,-0.36],[2.08,-0.32],[2.04,-0.28],[2.07,-0.24],[2.03,-0.20],
  [2.00,-0.24],[1.97,-0.20],
];

const xTicks = [0, 1, 2];
const yTicks = [-0.5, 0, 0.5, 1, 1.5, 2];
const titleText = "Two dimensional brownian motion";

const SERIF = "Liberation Serif, DejaVu Serif, serif";

const fmt = (v: number) => (v < 0 ? "\u2212" + String(Math.abs(v)) : String(v));

export default function App() {
  const ref = useRef<HTMLDivElement>(null);

  useEffect(() => {
    if (!ref.current) return;
    const chart = echarts.init(ref.current, undefined, { renderer: "svg" });
    const path = [
      ...originTangle,
      ...leftLowerSpread,
      ...lowerLeftReturn,
      ...startAndLeftArm,
      ...leftTangle,
      ...leftTopSpread,
      ...upperLeftCluster,
      ...upperMiddleTangle,
      ...middleLeftCluster,
      ...smallLowerTangle,
      ...lowerLoop,
      ...centerTangle,
      ...centerSpread,
      ...centerDense,
      ...centralCluster,
      ...midUpperTangle,
      ...climbToTop,
      ...topTangle,
      ...knotBelowTop,
      ...upperRightCluster,
      ...upperRightSpread,
      ...rightMidTangle,
      ...rightMidCluster,
      ...upperMidSpread,
      ...descentThroughMiddle,
      ...midRightSpread,
      ...rightLowerTangle,
      ...lowerRightA,
      ...farRightTangle,
      ...lowerRightB,
      ...finalWander,
      ...lowerRightSpread,
    ];
    const labelStyle = { fontFamily: SERIF, fontSize: 25, color: "#111" };
    chart.setOption({
      animation: false,
      backgroundColor: "#ffffff",
      textStyle: { fontFamily: SERIF, fontSize: 25, color: "#111" },
      title: {
        text: titleText,
        left: 377,
        top: 3,
        textAlign: "center",
        textStyle: { fontFamily: SERIF, fontSize: 26, fontWeight: "normal", color: "#111" },
      },
      grid: {
        left: 121,
        top: 55,
        width: 518,
        height: 430,
        outerBoundsMode: "none",
        containLabel: false,
        show: true,
        borderColor: "#262626",
        borderWidth: 1.2,
        backgroundColor: "transparent",
      },
      xAxis: {
        type: "value",
        min: -0.978,
        max: 2.8,
        name: "x",
        nameLocation: "middle",
        nameGap: 37,
        nameTextStyle: { fontFamily: SERIF, fontSize: 24, fontStyle: "italic", color: "#111" },
        axisLine: { show: true, onZero: false, lineStyle: { color: "#262626", width: 1.2 } },
        axisTick: { show: true, customValues: xTicks, length: 10, lineStyle: { color: "#262626", width: 1.2 } },
        axisLabel: { customValues: xTicks, formatter: fmt, margin: 16, ...labelStyle },
        splitLine: { show: true, lineStyle: { color: "#b0b0b0", width: 1 } },
      },
      yAxis: {
        type: "value",
        min: -0.757,
        max: 2.07,
        name: "y",
        nameLocation: "middle",
        nameGap: 94,
        nameRotate: 90,
        nameTextStyle: { fontFamily: SERIF, fontSize: 26, fontStyle: "italic", color: "#111" },
        axisLine: { show: true, onZero: false, lineStyle: { color: "#262626", width: 1.2 } },
        axisTick: { show: true, customValues: yTicks, length: 10, lineStyle: { color: "#262626", width: 1.2 } },
        axisLabel: { customValues: yTicks, formatter: fmt, margin: 21, ...labelStyle },
        splitLine: { show: true, lineStyle: { color: "#b0b0b0", width: 1 } },
      },
      series: [
        {
          type: "line",
          data: path,
          showSymbol: false,
          symbol: "none",
          lineStyle: { color: "#1f77b4", width: 1.5, join: "miter" },
          clip: true,
        },
      ],
    });
    return () => chart.dispose();
  }, []);

  return (
    <div
      ref={ref}
      style={{ position: "fixed", left: 0, top: 0, width: 632, height: 555, overflow: "hidden", background: "#fff" }}
    />
  );
}
